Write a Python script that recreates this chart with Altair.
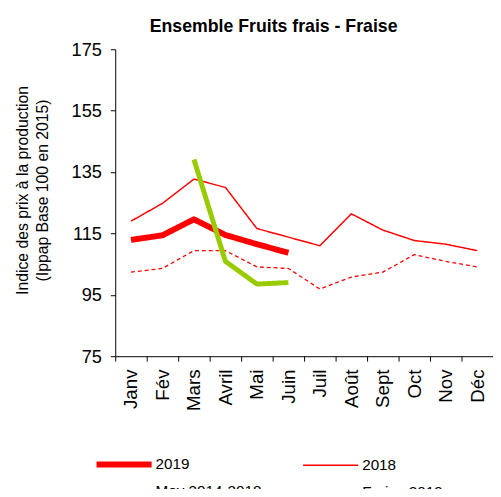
import altair as alt
import pandas as pd

months = ["Janv", "Fév", "Mars", "Avril", "Mai", "Juin",
          "Juil", "Août", "Sept", "Oct", "Nov", "Déc"]

v2019 = [112.9, 114.4, 119.6, 114.5, 111.5, 108.7]
v2018 = [119.0, 124.8, 132.7, 130.0, 116.6, 113.8,
         111.0, 121.4, 116.1, 112.7, 111.5, 109.4]
vmoy = [102.4, 103.6, 109.4, 109.4, 104.1, 103.6,
        96.9, 100.8, 102.4, 108.1, 105.9, 104.1]
fraise_months = ["Mars", "Avril", "Mai", "Juin"]
vfraise = [139.1, 105.9, 98.5, 99.0]

series = ["2019", "2018", "Mov 2014-2018", "Fraise 2019"]
colors = ["#ff0000", "#ff0000", "#ff0000", "#99cc00"]
widths = [6, 1.5, 1.3, 5]
dashes = [[1, 0], [1, 0], [4, 3], [1, 0]]

rows = []
for m, v in zip(months, v2018):
    rows.append({"mois": m, "valeur": v, "serie": "2018"})
for m, v in zip(months, vmoy):
    rows.append({"mois": m, "valeur": v, "serie": "Mov 2014-2018"})
for m, v in zip(months[:6], v2019):
    rows.append({"mois": m, "valeur": v, "serie": "2019"})
for m, v in zip(fraise_months, vfraise):
    rows.append({"mois": m, "valeur": v, "serie": "Fraise 2019"})
df = pd.DataFrame(rows)

FONT = "Liberation Sans"

legend = alt.Legend(
    title=None, orient="none", legendX=-1, legendY=412, columns=2,
    direction="horizontal",
    symbolType="M-4,0H4", symbolSize=196, columnPadding=32, rowPadding=6,
    labelFontSize=15.5, labelFont=FONT, labelColor="black", labelOffset=22,
    symbolOpacity=1,
)

chart = alt.Chart(df).mark_line(strokeCap="butt", strokeJoin="round").encode(
    x=alt.X("mois:N", sort=months,
            scale=alt.Scale(type="band", domain=months, paddingInner=0, paddingOuter=0),
            axis=alt.Axis(title=None, labelAngle=-90, labelFontSize=19, labelFont=FONT,
                          labelColor="black", tickBand="extent", tickColor="black",
                          domainColor="black", tickSize=5, labelPadding=8, grid=False)),
    y=alt.Y("valeur:Q",
            scale=alt.Scale(domain=[75, 175], nice=False, zero=False),
            axis=alt.Axis(values=[75, 95, 115, 135, 155, 175],
                          title=["Indice des prix à la production", "(Ippap Base 100 en 2015)"],
                          titleFontSize=16, titleFont=FONT, titleFontWeight="normal",
                          titleColor="black", titleX=-89, titleY=143, titleAlign="center",
                          titleBaseline="alphabetic", titleLineHeight=20,
                          labelFontSize=18.5, labelFont=FONT, labelColor="black",
                          tickColor="black", domainColor="black", tickSize=5,
                          labelPadding=9, grid=False)),
    color=alt.Color("serie:N", scale=alt.Scale(domain=series, range=colors), legend=legend),
    strokeWidth=alt.StrokeWidth("serie:N",
                                scale=alt.Scale(type="ordinal", domain=series, range=widths),
                                legend=legend),
    strokeDash=alt.StrokeDash("serie:N", scale=alt.Scale(domain=series, range=dashes), legend=legend),
).properties(
    width=384, height=312,
    title=alt.TitleParams("Ensemble Fruits frais - Fraise", fontSize=18, font=FONT,
                          fontWeight="bold", color="black", baseline="alphabetic",
                          offset=-9, dx=-31),
    autosize=alt.AutoSizeParams(type="none"),
    padding={"left": 109, "top": 38, "right": 0, "bottom": 131},
).configure_view(stroke=None)

chart.save("out.html", embed_options={"renderer": "svg", "actions": False})
